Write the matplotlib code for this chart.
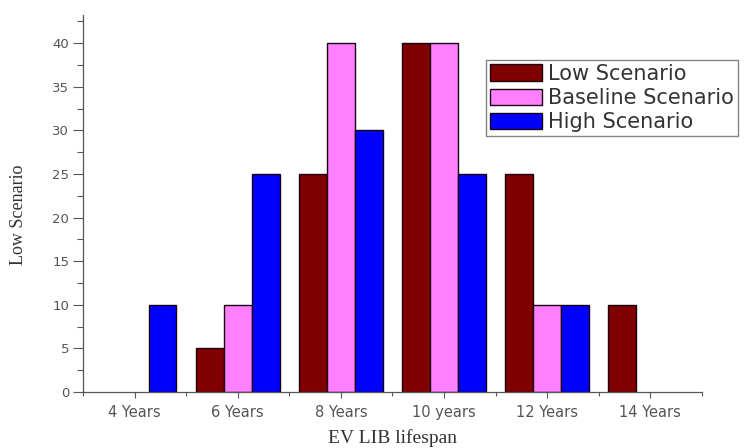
import numpy as np
import matplotlib

matplotlib.use("Agg")
import matplotlib.pyplot as plt
from matplotlib.ticker import MultipleLocator, FixedLocator

categories = ["4 Years", "6 Years", "8 Years", "10 years", "12 Years", "14 Years"]
low = [0, 5, 25, 40, 25, 10]
baseline = [0, 10, 40, 40, 10, 0]
high = [10, 25, 30, 25, 10, 0]

series = [
    ("Low Scenario", low, "#800000"),
    ("Baseline Scenario", baseline, "#ff80ff"),
    ("High Scenario", high, "#0000ff"),
]

fig = plt.figure(figsize=(7.49, 4.48), dpi=100)
ax = fig.add_axes([0.111, 0.125, 0.826, 0.841])

x = np.arange(len(categories))
width = 0.27
for i, (name, vals, color) in enumerate(series):
    # empty bars get no outline so nothing sits on the axis line
    edges = ["#1a0010" if v > 0 else "none" for v in vals]
    ax.bar(x + (i - 1) * width, vals, width, color=color, edgecolor=edges,
           linewidth=1.0, label=name)

ax.set_xlim(-0.5, len(categories) - 0.5)
ax.set_ylim(0, 43.2)
ax.set_xticks(x)
ax.set_xticklabels(categories, family="DejaVu Sans", fontsize=10.5, color="#555555")
ax.xaxis.set_minor_locator(FixedLocator(np.arange(-0.5, len(categories), 1.0)))
ax.yaxis.set_major_locator(MultipleLocator(5))
ax.yaxis.set_minor_locator(MultipleLocator(2.5))
for lab in ax.get_yticklabels():
    lab.set_family("DejaVu Sans")
    lab.set_fontsize(9.5)
    lab.set_color("#555555")

ax.tick_params(axis="y", which="major", length=7, width=0.8, color="#555555", pad=3)
ax.tick_params(axis="y", which="minor", length=4, width=0.8, color="#555555")
ax.tick_params(axis="x", which="major", length=4, width=0.8, color="#555555", pad=5)
ax.tick_params(axis="x", which="minor", length=3, width=0.8, color="#555555")
ax.spines["top"].set_visible(False)
ax.spines["right"].set_visible(False)
for s in ("left", "bottom"):
    ax.spines[s].set_color("#555555")
    ax.spines[s].set_linewidth(0.9)

ax.set_xlabel("EV LIB lifespan", family="Liberation Serif", fontsize=14, color="#333333", labelpad=7)
ax.set_ylabel("Low Scenario", family="Liberation Serif", fontsize=13, color="#333333")
ax.yaxis.set_label_coords(-0.09, 0.47)

leg = ax.legend(loc="upper left", bbox_to_anchor=(0.651, 0.882), frameon=True, fancybox=False,
                prop={"family": "DejaVu Sans", "size": 15}, handlelength=2.5,
                handleheight=0.85, handletextpad=0.3, labelspacing=0.2,
                borderpad=0.2, borderaxespad=0)
leg.get_frame().set_edgecolor("#666666")
leg.get_frame().set_linewidth(1.0)
for t in leg.get_texts():
    t.set_color("#333333")
for h in leg.legend_handles:
    h.set_edgecolor("#1a0010")

fig.savefig("out.png", dpi=100)
